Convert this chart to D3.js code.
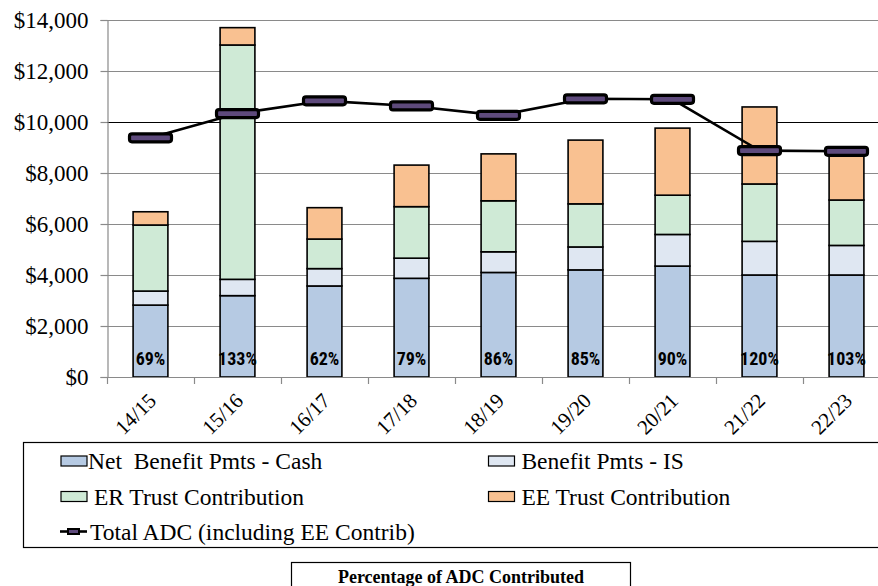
<!DOCTYPE html>
<html>
<head>
<meta charset="utf-8">
<script src="https://cdn.jsdelivr.net/npm/d3@7"></script>
<style>
  html, body { margin: 0; padding: 0; background: #fff; }
  svg { display: block; }
  text { white-space: pre; }
</style>
</head>
<body>
<svg id="chart" width="878" height="586"></svg>
<script>
// Fiscal years
const years = ["14/15", "15/16", "16/17", "17/18", "18/19", "19/20", "20/21", "21/22", "22/23"];

// Stacked components ($ thousands)
const netBenefitCash = [2820, 3190, 3570, 3870, 4100, 4200, 4350, 4000, 4000];
const benefitIS      = [550, 640, 680, 790, 810, 900, 1240, 1320, 1160];
const erTrust        = [2590, 9190, 1160, 2020, 2000, 1690, 1540, 2250, 1780];
const eeTrust        = [520, 680, 1230, 1630, 1840, 2500, 2630, 3020, 1760];

// Total ADC line
const totalADC = [9380, 10330, 10830, 10630, 10260, 10910, 10890, 8880, 8850];

// Percentage of ADC contributed
const pctLabels = ["69%", "133%", "62%", "79%", "86%", "85%", "90%", "120%", "103%"];

const yTicks = [0, 2000, 4000, 6000, 8000, 10000, 12000, 14000];

const seriesKeys = ["cash", "is", "er", "ee"];
const seriesNames = {
  cash: "Net  Benefit Pmts - Cash",
  is: " Benefit Pmts - IS",
  er: " ER Trust Contribution",
  ee: " EE Trust Contribution"
};
const colors = { cash: "#b6cae3", is: "#dfe7f2", er: "#cfead6", ee: "#f9c191" };

const rows = years.map((yr, i) => ({
  year: yr, cash: netBenefitCash[i], is: benefitIS[i], er: erTrust[i], ee: eeTrust[i]
}));

const svg = d3.select("#chart");
const serif = "'Liberation Serif', 'Times New Roman', serif";
const narrow = "'Roboto Condensed', 'Liberation Sans', sans-serif";

const plot = { left: 107, right: 890, top: 20, bottom: 377 };

const x = d3.scaleBand().domain(years).range([plot.left, plot.right]).padding(0);
const y = d3.scaleLinear().domain([0, 14000]).range([plot.bottom, plot.top]);
const barW = x.bandwidth() * 0.4;

// Gridlines (the $10,000 line is drawn darker)
svg.append("g").selectAll("line")
  .data(yTicks.filter(d => d > 0))
  .join("line")
  .attr("x1", plot.left).attr("x2", plot.right)
  .attr("y1", d => Math.round(y(d)) + 0.5).attr("y2", d => Math.round(y(d)) + 0.5)
  .attr("stroke", d => d === 10000 ? "#000" : "#8a8a8a")
  .attr("stroke-width", 1.2);

// Left axis
const yAxis = svg.append("g")
  .attr("transform", `translate(${plot.left + 0.5},0)`)
  .call(d3.axisLeft(y).tickValues(yTicks).tickSize(7).tickPadding(12)
    .tickFormat(d => "$" + d3.format(",")(d)));
yAxis.select(".domain").attr("stroke", "#8a8a8a").attr("stroke-width", 1.2);
yAxis.selectAll(".tick line").attr("stroke", "#8a8a8a").attr("stroke-width", 1.2);
yAxis.selectAll(".tick text")
  .attr("font-family", serif).attr("font-size", 23).attr("fill", "#000");

// Stacked bars
const stack = d3.stack().keys(seriesKeys)(rows);
svg.append("g").selectAll("g")
  .data(stack)
  .join("g")
  .attr("fill", d => colors[d.key])
  .selectAll("rect")
  .data(d => d)
  .join("rect")
  .attr("x", d => x(d.data.year) + (x.bandwidth() - barW) / 2)
  .attr("y", d => y(d[1]))
  .attr("width", barW)
  .attr("height", d => y(d[0]) - y(d[1]))
  .attr("stroke", "#000")
  .attr("stroke-width", 1.6);

// Bottom axis line with category boundary ticks
const xAxis = svg.append("g");
xAxis.append("line")
  .attr("x1", plot.left).attr("x2", plot.right)
  .attr("y1", plot.bottom + 0.5).attr("y2", plot.bottom + 0.5)
  .attr("stroke", "#8a8a8a").attr("stroke-width", 1.2);
xAxis.selectAll("line.tk")
  .data(years.concat(["end"]))
  .join("line")
  .attr("class", "tk")
  .attr("x1", (d, i) => Math.round(plot.left + i * x.step()) + 0.5)
  .attr("x2", (d, i) => Math.round(plot.left + i * x.step()) + 0.5)
  .attr("y1", plot.bottom).attr("y2", plot.bottom + 7)
  .attr("stroke", "#8a8a8a").attr("stroke-width", 1.2);
xAxis.selectAll("text")
  .data(years)
  .join("text")
  .attr("transform", d => `translate(${x(d) + x.bandwidth() / 2 + 7},${plot.bottom + 25}) rotate(-45)`)
  .attr("text-anchor", "end")
  .attr("font-family", serif).attr("font-size", 21).attr("fill", "#000")
  .text(d => d);

// Percentage labels inside bars
svg.append("g").selectAll("text")
  .data(years)
  .join("text")
  .attr("x", d => x(d) + x.bandwidth() / 2)
  .attr("y", plot.bottom - 12)
  .attr("text-anchor", "middle")
  .attr("font-family", narrow).attr("font-weight", "bold").attr("font-size", 18)
  .attr("fill", "#000")
  .text((d, i) => pctLabels[i]);

// Total ADC line and markers
const line = d3.line()
  .x((d, i) => x(years[i]) + x.bandwidth() / 2)
  .y(d => y(d));
svg.append("path")
  .datum(totalADC)
  .attr("d", line)
  .attr("fill", "none")
  .attr("stroke", "#000")
  .attr("stroke-width", 2.6);
svg.append("g").selectAll("rect")
  .data(totalADC)
  .join("rect")
  .attr("x", (d, i) => x(years[i]) + x.bandwidth() / 2 - 21)
  .attr("y", d => y(d) - 4)
  .attr("width", 42).attr("height", 8)
  .attr("rx", 2.5)
  .attr("fill", "#5e4a7c")
  .attr("stroke", "#000")
  .attr("stroke-width", 3.2);

// Legend
const legend = svg.append("g");
legend.append("rect")
  .attr("x", 23.5).attr("y", 442.5).attr("width", 900).attr("height", 105)
  .attr("fill", "#fff").attr("stroke", "#000").attr("stroke-width", 1.2);

const legendItems = [
  { key: "cash", col: 0, row: 0 },
  { key: "is", col: 1, row: 0 },
  { key: "er", col: 0, row: 1 },
  { key: "ee", col: 1, row: 1 }
];
const colX = [61, 488.5];
const rowY = [461, 496.5, 531.5];

legendItems.forEach(it => {
  const gx = colX[it.col], gy = rowY[it.row];
  legend.append("rect")
    .attr("x", gx).attr("y", gy - 5).attr("width", 26).attr("height", 10)
    .attr("fill", colors[it.key]).attr("stroke", "#000").attr("stroke-width", 1.2);
  legend.append("text")
    .attr("x", gx + 27).attr("y", gy + 8)
    .attr("font-family", serif).attr("font-size", 23.5).attr("fill", "#000")
    .text(seriesNames[it.key]);
});

// Legend entry for the line series
legend.append("line")
  .attr("x1", 60).attr("x2", 87).attr("y1", rowY[2]).attr("y2", rowY[2])
  .attr("stroke", "#000").attr("stroke-width", 2.6);
legend.append("rect")
  .attr("x", 68).attr("y", rowY[2] - 2.5).attr("width", 11).attr("height", 5)
  .attr("fill", "#5e4a7c").attr("stroke", "#000").attr("stroke-width", 2);
legend.append("text")
  .attr("x", 90).attr("y", rowY[2] + 8)
  .attr("font-family", serif).attr("font-size", 23.5).attr("fill", "#000")
  .text("Total ADC (including EE Contrib)");

// Caption box
const cap = svg.append("g");
cap.append("rect")
  .attr("x", 291.5).attr("y", 562.5).attr("width", 339).attr("height", 40)
  .attr("fill", "#fff").attr("stroke", "#000").attr("stroke-width", 1.2);
cap.append("text")
  .attr("x", 461).attr("y", 583)
  .attr("text-anchor", "middle")
  .attr("font-family", serif).attr("font-weight", "bold").attr("font-size", 18)
  .attr("fill", "#000")
  .text("Percentage of ADC Contributed");
</script>
</body>
</html>
